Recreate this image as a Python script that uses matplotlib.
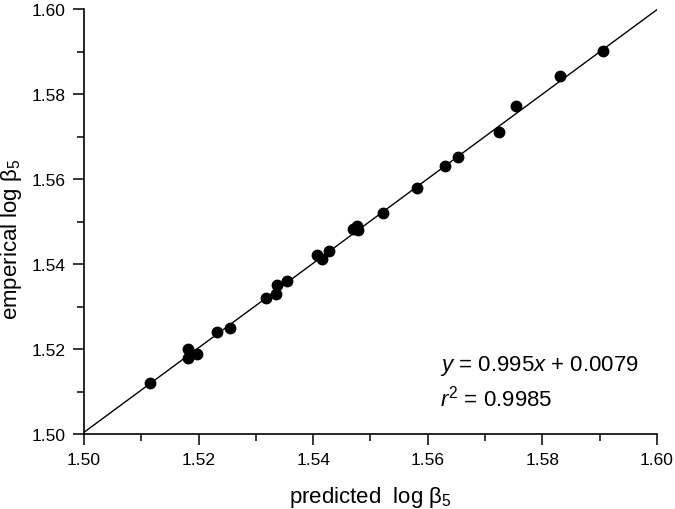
# predicted vs empirical log beta5 scatter with linear fit
import numpy as np
import matplotlib.pyplot as plt
from matplotlib.ticker import MultipleLocator

plt.rcParams['font.family'] = ['Liberation Sans', 'DejaVu Sans']
plt.rcParams['mathtext.fontset'] = 'custom'
plt.rcParams['mathtext.rm'] = 'Liberation Sans'
plt.rcParams['mathtext.it'] = 'Liberation Sans:italic'

# data
predicted = [1.5116, 1.5182, 1.5181, 1.5197, 1.5232, 1.5255, 1.5317, 1.5335,
             1.5337, 1.5355, 1.5407, 1.5415, 1.5428, 1.5470, 1.5476, 1.5479,
             1.5521, 1.5581, 1.5630, 1.5652, 1.5724, 1.5754, 1.5830, 1.5905]
emperical = [1.5120, 1.5200, 1.5178, 1.5188, 1.5239, 1.5249, 1.5320, 1.5329,
             1.5351, 1.5360, 1.5421, 1.5412, 1.5431, 1.5482, 1.5490, 1.5480,
             1.5520, 1.5580, 1.5631, 1.5651, 1.5711, 1.5771, 1.5842, 1.5901]
slope = 0.995
intercept = 0.0079
r2 = 0.9985

fig = plt.figure(figsize=(6.75, 5.1), dpi=100)
ax = fig.add_axes([0.1244, 0.147, 0.8489, 0.833])

xf = np.array([1.50, 1.60])
ax.plot(xf, slope * xf + intercept, color='black', lw=1.0)
ax.plot(predicted, emperical, 'o', color='black', ms=7.5, clip_on=False)

ax.set_xlim(1.50, 1.60)
ax.set_ylim(1.50, 1.60)
ax.xaxis.set_major_locator(MultipleLocator(0.02))
ax.yaxis.set_major_locator(MultipleLocator(0.02))
ax.xaxis.set_minor_locator(MultipleLocator(0.01))
ax.yaxis.set_minor_locator(MultipleLocator(0.01))
ax.xaxis.set_major_formatter(plt.FormatStrFormatter('%.2f'))
ax.yaxis.set_major_formatter(plt.FormatStrFormatter('%.2f'))

for s in ['top', 'right']:
    ax.spines[s].set_visible(False)
for s in ['left', 'bottom']:
    ax.spines[s].set_linewidth(1.2)
ax.tick_params(which='major', direction='out', length=8, width=1.1, labelsize=12.5, pad=5)
ax.tick_params(which='minor', direction='out', length=5, width=1.1)

ax.set_xlabel('predicted  log β$_5$', fontsize=16)
ax.set_ylabel('emperical log β$_5$', fontsize=16)
ax.xaxis.set_label_coords(0.5, -0.118)
ax.yaxis.set_label_coords(-0.105, 0.46)

ax.text(1.5621, 1.5162, '$y$ = 0.995$x$ + 0.0079', fontsize=16, va='center')
ax.text(1.5621, 1.5087, '$r^2$ = %.4f' % r2, fontsize=16, va='center')

plt.savefig('out.png', dpi=100)
